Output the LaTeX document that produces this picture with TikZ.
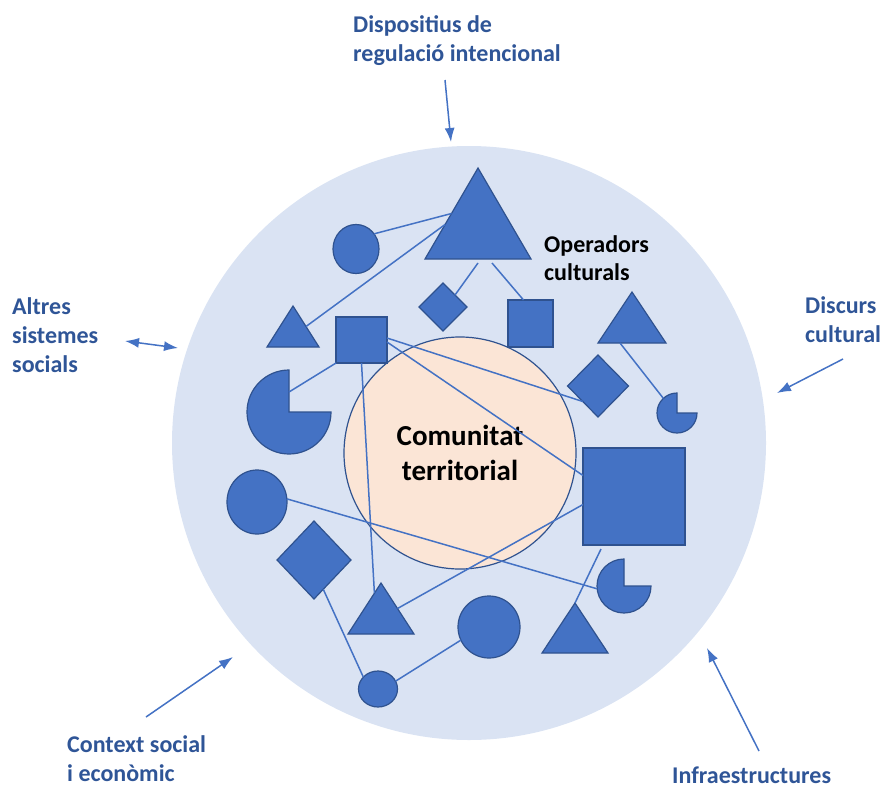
\documentclass[tikz,border=0pt]{standalone}
\usepackage{fontspec}
\setmainfont{Carlito}
\usetikzlibrary{shapes.geometric,arrows.meta,calc}
\definecolor{bgblue}{RGB}{218,227,243}
\definecolor{shpfill}{RGB}{68,114,196}
\definecolor{shpline}{RGB}{47,82,143}
\definecolor{peach}{RGB}{251,229,214}
\definecolor{lblblue}{RGB}{47,85,151}
\begin{document}
\begin{tikzpicture}[x=1pt, y=-1pt, >={Latex[length=14pt,width=10pt]},
  shp/.style={fill=shpfill, draw=shpline, line width=1.2pt, inner sep=0pt, outer sep=0pt},
  tri/.style={shp, isosceles triangle, isosceles triangle stretches, shape border rotate=90, anchor=apex},
  sq/.style={shp, rectangle, anchor=north west},
  dia/.style={shp, diamond},
  blob/.style={shp, ellipse},
  pac/.style={circle, inner sep=0pt, outer sep=0pt, minimum size=#1},
  link/.style={draw=shpfill, line width=1.5pt},
  arr/.style={link, ->},
  lab/.style={text=lblblue, font=\bfseries\fontsize{24}{29}\selectfont, align=left, anchor=north west, inner sep=0pt}]
\useasboundingbox (0,0) rectangle (880,784);
\clip (0,0) rectangle (880,784);
% circles
\node[circle, fill=bgblue, minimum size=594pt, inner sep=0pt] (world) at (469,443) {};
\node[circle, fill=peach, draw=shpline, line width=1.2pt, minimum size=232pt, inner sep=0pt,
  align=center, font=\bfseries\fontsize{29}{35}\selectfont] (comm) at (460,453) {Comunitat\\territorial};
% shapes
\node[tri, minimum width=106pt, minimum height=91pt] (T1) at (478,168) {};
\node[tri, minimum width=52pt, minimum height=41pt] (T2) at (293,306) {};
\node[tri, minimum width=68pt, minimum height=51pt] (T3) at (632,292) {};
\node[tri, minimum width=66pt, minimum height=51pt] (T4) at (381,583) {};
\node[tri, minimum width=66pt, minimum height=50pt] (T5) at (575,603) {};
\node[sq, minimum width=51pt, minimum height=46pt] (Sq1) at (336,317) {};
\node[sq, minimum width=45pt, minimum height=47pt] (Sq2) at (508,300) {};
\node[sq, minimum width=102pt, minimum height=97pt] (Sq3) at (583,448) {};
\node[dia, minimum width=48pt, minimum height=48pt] (D1) at (443,307) {};
\node[dia, minimum width=61pt, minimum height=62pt] (D2) at (598,386) {};
\node[dia, minimum width=74pt, minimum height=78pt] (D3) at (314,560) {};
\node[blob, minimum width=46pt, minimum height=49pt] (c1) at (356,249) {};
\node[blob, minimum width=60pt, minimum height=64pt] (C2) at (257,502) {};
\node[blob, minimum width=39pt, minimum height=36pt] (c3) at (378,689) {};
\node[blob, minimum width=62pt, minimum height=62pt] (C4) at (489,627) {};
\node[pac=84pt] (pL) at (289,412) {};
\node[pac=40pt] (pR) at (677,413) {};
\node[pac=54pt] (pB) at (624,586) {};
\foreach \n/\rr in {pL/42,pR/20,pB/27}
  \draw[shp] (\n.center) -- ++(0:\rr pt) arc[start angle=0, end angle=-270, radius=\rr pt] -- cycle;
% links
\draw[link] (c1.40) -- (T1.left side);
\draw[link] (T2.right side) -- ($(T1.apex)!0.62!(T1.left corner)$);
\draw[link] (D1.north east) -- ([yshift=-4pt]T1.lower side);
\draw[link] ([xshift=14pt,yshift=-4pt]T1.lower side) -- ([xshift=-7pt]Sq2.north);
\draw[link] ([xshift=-12pt]T3.lower side) -- (pR.133);
\draw[link] ([yshift=2pt]Sq1.east) -- (D2.south west);
\draw[link] ([yshift=-2pt]Sq1.east) -- ([yshift=21pt]Sq3.west);
\draw[link] (Sq1.south) -- ($(T4.apex)!0.2!(T4.left corner)$);
\draw[link] (Sq1.south west) -- ([yshift=20pt]pL.center);
\draw[link] (C2.6) -- (pB.186);
\draw[link] ($(D3.south)!0.25!(D3.east)$) -- (c3.141);
\draw[link] (T4.right side) -- ([yshift=-8pt]Sq3.west);
\draw[link] (c3.24) -- (C4.205);
\draw[link] ([xshift=-33pt,yshift=-4pt]Sq3.south) -- (T5.apex);
% labels
\node[font=\bfseries\fontsize{24}{28}\selectfont, align=left, anchor=north west, inner sep=0pt] (oper) at (544,235) {Operadors\\culturals};
\node[lab] (disp) at (353,15) {Dispositius de\\regulació intencional};
\node[lab] (altr) at (12,297) {Altres\\sistemes\\socials};
\node[lab] (disc) at (805,296) {Discurs\\cultural};
\node[lab] (ctxt) at (67,735) {Context social\\i econòmic};
\node[lab] (infr) at (672,767) {Infraestructures};
% arrows
\coordinate (dTail) at (445,80);  \coordinate (dTip) at (451,142);
\coordinate (aL) at (125,341);    \coordinate (aR) at (178,348);
\coordinate (rTail) at (843,359); \coordinate (rTip) at (777,393);
\coordinate (cTail) at (146,717); \coordinate (cTip) at (233,657);
\coordinate (iTail) at (759,751); \coordinate (iTip) at (707,648);
\draw[arr] (dTail) -- (dTip);
\draw[arr, <->] (aL) -- (aR);
\draw[arr] (rTail) -- (rTip);
\draw[arr] (cTail) -- (cTip);
\draw[arr] (iTail) -- (iTip);
\end{tikzpicture}
\end{document}
